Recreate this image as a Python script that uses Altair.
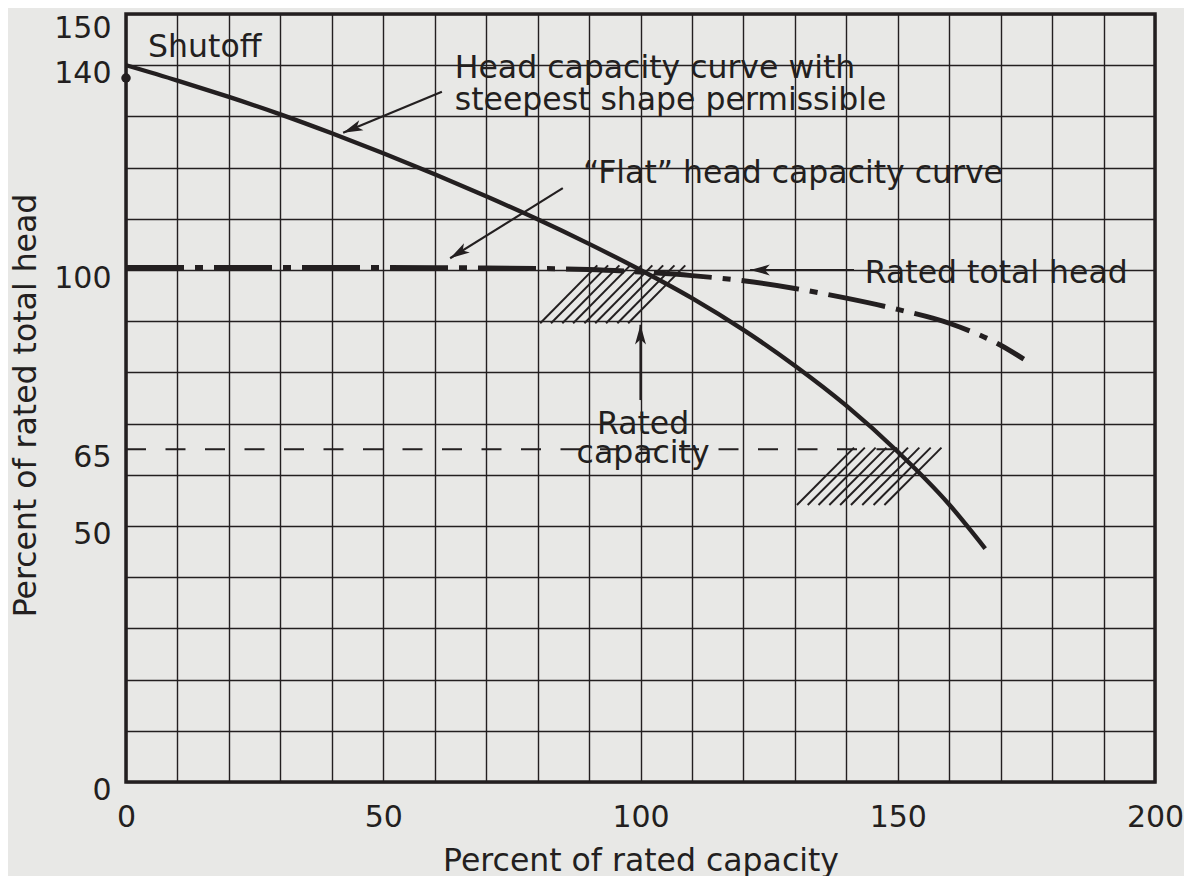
import math
import altair as alt
import pandas as pd

# ---------------- data ----------------
cap_ticks = [0, 50, 100, 150, 200]
head_ticks = [0, 50, 65, 100, 140, 150]
cap_grid = [0, 10, 20, 30, 40, 50, 60, 70, 80, 90, 100, 110, 120, 130, 140, 150, 160, 170, 180, 190, 200]
head_grid = [0, 10, 20, 30, 40, 50, 60, 70, 80, 90, 100, 110, 120, 130, 140, 150]

# head capacity curve with steepest shape permissible
steep_cap = [0, 10, 20, 30, 40, 50, 60, 70, 80, 90, 100, 110, 120, 130, 140, 150, 160, 167]
steep_head = [140, 137, 133.8, 130.4, 126.7, 122.8, 118.7, 114.4, 109.9, 105.1, 100, 94.5, 88.3, 81.3, 73.5, 64.5, 54.2, 45.6]

# "flat" head capacity curve
flat_cap = [0, 20, 40, 60, 70, 80, 90, 100, 110, 120, 130, 140, 150, 160, 170, 174.5]
flat_head = [100.5, 100.5, 100.5, 100.45, 100.4, 100.3, 100.1, 99.6, 98.9, 97.9, 96.4, 94.5, 92.3, 89.6, 85.3, 82.6]

# dashed reference line at 65 % head
ref65_cap = [0, 150]
ref65_head = [65, 65]

# shutoff point
shutoff_cap = [0]
shutoff_head = [137.5]

# hatched tolerance zones (bottom x of each hatch line, bottom/top head)
hatch1_bottom = [80.5, 82.6, 84.8, 86.9, 89.1, 91.2, 93.3, 95.5, 97.6]
hatch1_head = [89.6, 100.9]
hatch2_bottom = [130.4, 132.5, 134.6, 136.7, 138.8, 140.9, 143.1, 145.3, 147.4]
hatch2_head = [54.1, 65.3]
hatch_run = 11.1

# annotation arrows: tail (cap, head) -> tip (cap, head)
arrow_tail_cap = [61.4, 84.9, 141.5, 100]
arrow_tail_head = [134.8, 116.0, 100.0, 74.6]
arrow_tip_cap = [42.2, 63.0, 121.3, 100]
arrow_tip_head = [126.8, 102.3, 100.0, 89.3]

# annotation texts
left_texts = ["Shutoff", "Head capacity curve with", "steepest shape permissible",
              "\u201cFlat\u201d head capacity curve", "Rated total head"]
left_cap = [4.3, 63.9, 63.9, 88.8, 143.6]
left_head = [141.6, 137.5, 131.3, 117.0, 97.5]
center_texts = ["Rated", "capacity"]
center_cap = [100.5, 100.5]
center_head = [68.0, 62.3]

# ---------------- chart ----------------
W, H = 1029, 768
INK = "#231f20"
FONT = "DejaVu Sans"
FS_TICK = 30
FS_TITLE = 31.5
FS_NOTE = 31.5

x_axis = alt.Axis(
    values=sorted(set(cap_grid + cap_ticks)),
    labelExpr=f"indexof({cap_ticks}, datum.value) >= 0 ? datum.label : ''",
    title="Percent of rated capacity",
    titleY=88, titleBaseline="alphabetic",
    grid=True, ticks=False, tickSize=0, domain=False,
    labelPadding=20, labelFlush=False, labelOverlap=False,
)
y_axis = alt.Axis(
    values=sorted(set(head_grid + head_ticks)),
    labelExpr=f"indexof({head_ticks}, datum.value) >= 0 ? datum.label : ''",
    gridOpacity={"condition": {"test": f"indexof({head_grid}, datum.value) < 0", "value": 0}, "value": 1},
    labelOffset={"condition": {"test": "datum.value === 150", "value": 14}, "value": 8},
    title="Percent of rated total head",
    titleX=-91, titleY=391, titleAngle=-90, titleAlign="center", titleBaseline="alphabetic",
    grid=True, ticks=False, tickSize=0, domain=False,
    labelPadding=15, labelFlush=False, labelOverlap=False,
)
xs = alt.Scale(domain=[0, 200], nice=False, zero=False)
ys = alt.Scale(domain=[0, 150], nice=False, zero=False)
X = alt.X("cap:Q", scale=xs, axis=x_axis)
Y = alt.Y("head:Q", scale=ys, axis=y_axis)

steep_df = pd.DataFrame({"cap": steep_cap, "head": steep_head})
flat_df = pd.DataFrame({"cap": flat_cap, "head": flat_head})
ref_df = pd.DataFrame({"cap": ref65_cap, "head": ref65_head})
shut_df = pd.DataFrame({"cap": shutoff_cap, "head": shutoff_head})

hatch_rows = []
for bottoms, (h0, h1) in ((hatch1_bottom, hatch1_head), (hatch2_bottom, hatch2_head)):
    for b in bottoms:
        hatch_rows.append({"cap": b, "head": h0, "cap2": b + hatch_run, "head2": h1})
hatch_df = pd.DataFrame(hatch_rows)

sx, sy = W / 200.0, H / 150.0
arrow_rows = []
for tc, th, pc, ph in zip(arrow_tail_cap, arrow_tail_head, arrow_tip_cap, arrow_tip_head):
    dx = (pc - tc) * sx
    dy = -(ph - th) * sy
    ang = math.degrees(math.atan2(dx, -dy)) % 360
    arrow_rows.append({"cap": tc, "head": th, "cap2": pc, "head2": ph, "ang": ang})
arrow_df = pd.DataFrame(arrow_rows)

left_df = pd.DataFrame({"cap": left_cap, "head": left_head, "txt": left_texts})
center_df = pd.DataFrame({"cap": center_cap, "head": center_head, "txt": center_texts})

steep = alt.Chart(steep_df).mark_line(color=INK, strokeWidth=4.4, interpolate="monotone").encode(x=X, y=Y)
flat = alt.Chart(flat_df).mark_line(
    color=INK, strokeWidth=5, interpolate="monotone", strokeDash=[58, 11, 8, 11]
).encode(x=X, y=Y)
ref = alt.Chart(ref_df).mark_line(color=INK, strokeWidth=2, strokeDash=[20, 19.5]).encode(x=X, y=Y)
hatch = alt.Chart(hatch_df).mark_rule(color=INK, strokeWidth=2).encode(x=X, y=Y, x2="cap2:Q", y2="head2:Q")
shut = alt.Chart(shut_df).mark_point(filled=True, color=INK, size=90, opacity=1).encode(x=X, y=Y)
arrow_lines = alt.Chart(arrow_df).mark_rule(color=INK, strokeWidth=2.2).encode(x=X, y=Y, x2="cap2:Q", y2="head2:Q")
arrow_heads = alt.Chart(arrow_df).mark_point(
    filled=True, color=INK, opacity=1, size=480, shape="M0,0L0.5,1.8L0,1.35L-0.5,1.8Z"
).encode(
    x=alt.X("cap2:Q", scale=xs, axis=x_axis),
    y=alt.Y("head2:Q", scale=ys, axis=y_axis),
    angle=alt.Angle("ang:Q", scale=None),
)
left_text = alt.Chart(left_df).mark_text(
    align="left", baseline="alphabetic", font=FONT, fontSize=FS_NOTE, color=INK
).encode(x=X, y=Y, text="txt:N")
center_text = alt.Chart(center_df).mark_text(
    align="center", baseline="alphabetic", font=FONT, fontSize=FS_NOTE, color=INK
).encode(x=X, y=Y, text="txt:N")

chart = alt.layer(
    ref, hatch, flat, steep, arrow_lines, arrow_heads, shut, left_text, center_text
).properties(
    width=W, height=H,
    autosize=alt.AutoSizeParams(type="none"),
    padding={"left": 118, "top": 6, "right": 29, "bottom": 94},
    background="#e8e8e6",
).configure_view(
    stroke=INK, strokeWidth=3.5
).configure_axis(
    gridColor=INK, gridWidth=1.4, gridOpacity=1,
    labelFont=FONT, labelFontSize=FS_TICK, labelColor=INK,
    titleFont=FONT, titleFontSize=FS_TITLE, titleColor=INK, titleFontWeight="normal",
)

chart.save("out.html", embed_options={"renderer": "svg", "actions": False})
